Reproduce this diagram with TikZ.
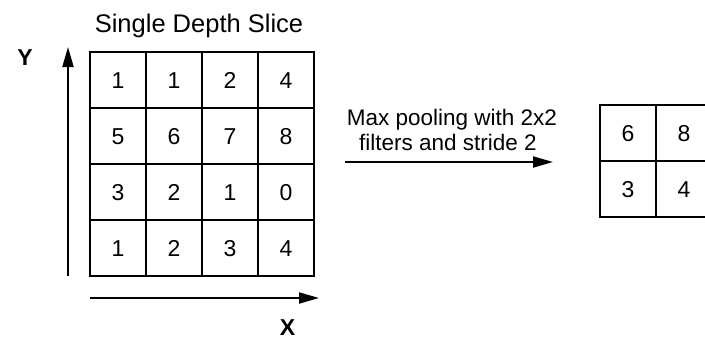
\documentclass[tikz,border=0pt]{standalone}
\usepackage{fontspec}
\setmainfont{Liberation Sans}
\usetikzlibrary{arrows.meta}
\begin{document}
\begin{tikzpicture}[x=1pt,y=-1pt,
  cell/.style={draw, line width=2pt, minimum size=56pt, inner sep=0pt,
    text height=16pt, text depth=0pt,
    font=\fontsize{23}{27}\selectfont},
  arrowline/.style={line width=2pt, -{Triangle[length=20pt,width=11pt]}},
  title/.style={font=\fontsize{25.5}{30}\selectfont, inner sep=0pt, anchor=base},
  axislabel/.style={font=\fontsize{23}{27}\bfseries, inner sep=0pt},
  caption/.style={font=\fontsize{22.5}{26}\selectfont, inner sep=0pt, anchor=base}]
  % page area (the output grid runs past the right edge)
  \clip (0,0) rectangle (705,340);

  % input slice, 4x4
  \node[title] (ttl) at (199,32) {Single Depth Slice};
  \foreach \vals [count=\r from 0] in {{1,1,2,4},{5,6,7,8},{3,2,1,0},{1,2,3,4}} {
    \foreach \v [count=\c from 0] in \vals {
      \node[cell] (in-\r-\c) at (118+56*\c, 80+56*\r) {\v};
    }
  }

  % axes
  \coordinate (ybot) at (68,276);
  \coordinate (ytop) at (68,47);
  \coordinate (xlft) at (90,298);
  \coordinate (xrgt) at (319,298);
  \draw[arrowline] (ybot) -- (ytop);
  \draw[arrowline] (xlft) -- (xrgt);
  \node[axislabel] (ylab) at (25,58) {Y};
  \node[axislabel] (xlab) at (287.5,328) {X};

  % pooling step
  \node[caption] (cap1) at (452,125) {Max pooling with 2x2};
  \node[caption] (cap2) at (448,150) {filters and stride 2};
  \coordinate (pa) at (345,162);
  \coordinate (pb) at (553,162);
  \draw[arrowline] (pa) -- (pb);

  % pooled output, 2x2
  \foreach \vals [count=\r from 0] in {{6,8},{3,4}} {
    \foreach \v [count=\c from 0] in \vals {
      \node[cell] (out-\r-\c) at (628+56*\c, 133+56*\r) {\v};
    }
  }
\end{tikzpicture}
\end{document}
